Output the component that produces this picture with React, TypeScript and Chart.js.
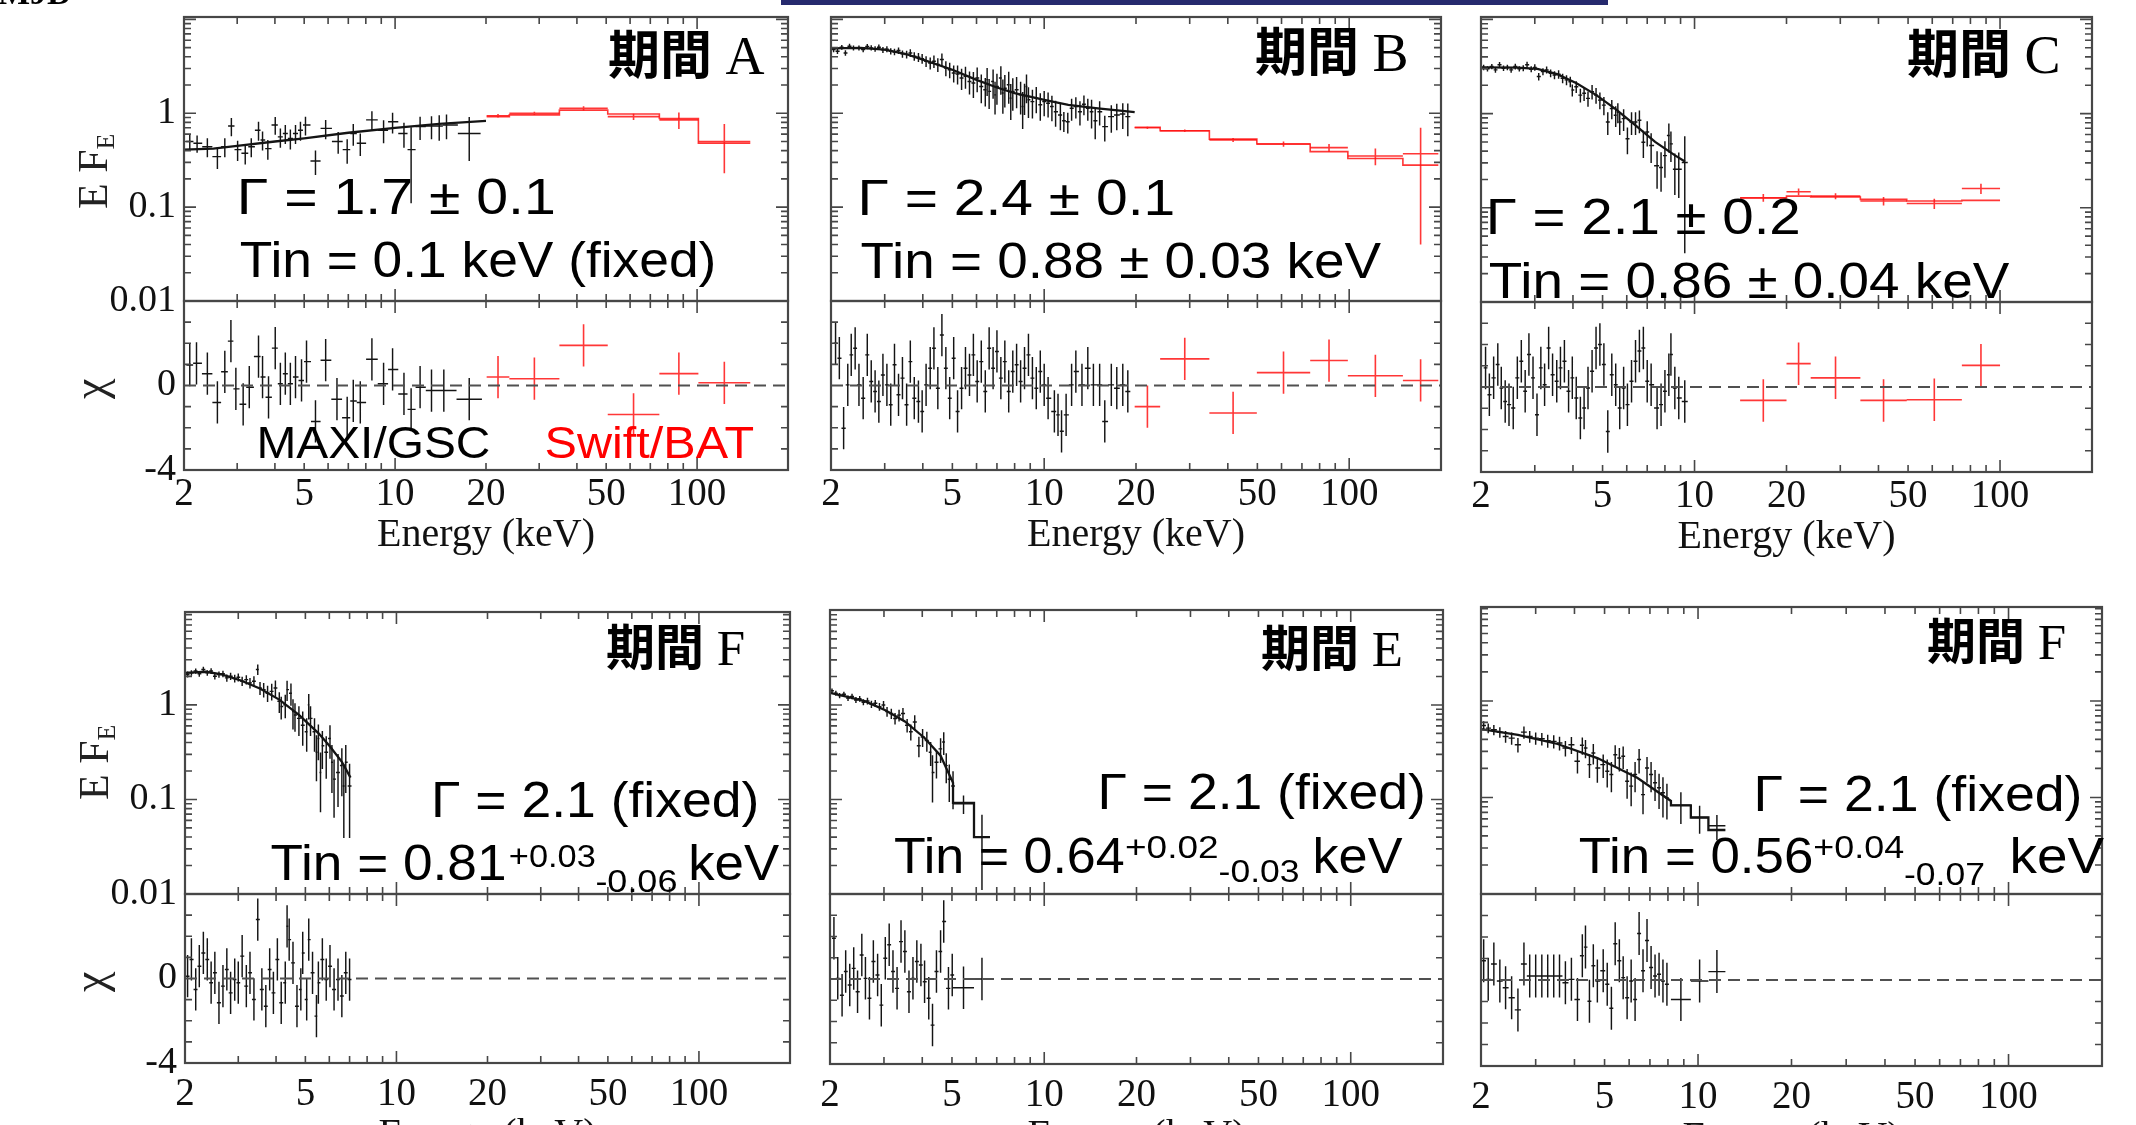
import React, { useEffect, useRef } from "react";
import { Chart, registerables } from "chart.js";

Chart.register(...registerables);

// ---------------- axis definitions ----------------
const X_TICK_LABELS = [2, 5, 10, 20, 50, 100];
const Y_TICK_LABELS = [0.01, 0.1, 1];
const CHI_TICK_LABELS = [-4, 0];
const X_RANGE = [2, 200];
const CHI_RANGE = [-4, 4];

// ---------------- Period A ----------------
// MAXI/GSC spectrum: [E keV, E F_E, error]
const A_GSC = [
  [2.09, 0.5, 0.1], [2.21, 0.48, 0.1], [2.39, 0.44, 0.1], [2.58, 0.345, 0.09], [2.73, 0.44, 0.1],
  [2.87, 0.73, 0.16], [3.01, 0.41, 0.1], [3.19, 0.375, 0.09], [3.34, 0.44, 0.1], [3.53, 0.66, 0.15],
  [3.64, 0.52, 0.12], [3.79, 0.42, 0.1], [4.01, 0.75, 0.16], [4.17, 0.56, 0.13], [4.33, 0.61, 0.14],
  [4.5, 0.54, 0.13], [4.68, 0.61, 0.14], [4.86, 0.66, 0.15], [5.05, 0.75, 0.17], [5.45, 0.31, 0.09],
  [5.89, 0.69, 0.16], [6.48, 0.5, 0.13], [6.94, 0.41, 0.12], [7.27, 0.61, 0.16], [7.67, 0.48, 0.13],
  [8.38, 0.85, 0.2], [9.16, 0.66, 0.18], [9.81, 0.81, 0.2], [10.7, 0.61, 0.18], [11.3, 0.41, 0.3],
  [12.1, 0.72, 0.2], [13.2, 0.73, 0.2], [14.0, 0.73, 0.22], [14.8, 0.75, 0.22], [17.6, 0.61, 0.3],
];
const A_GSC_MODEL = [[2.0, 0.41], [2.5, 0.42], [3.0, 0.45], [4.0, 0.5], [5.0, 0.54], [7.0, 0.62], [10, 0.7], [14, 0.77], [20, 0.83]];
// residuals: [E keV, chi]
const A_GSC_CHI = [
  [2.09, 0.97], [2.2, 1.05], [2.39, 0.56], [2.58, -0.8], [2.73, 0.65], [2.86, 2.1], [2.97, -0.16],
  [3.14, -0.89], [3.29, -0.08], [3.53, 1.37], [3.64, 0.4], [3.81, -0.56], [4.01, 1.77], [4.17, 0.08],
  [4.33, 0.56], [4.5, 0.08], [4.68, 0.4], [4.9, 0.24], [5.09, 1.13], [5.45, -1.7], [5.89, 1.2],
  [6.42, -0.65], [6.94, -1.53], [7.27, -0.73], [7.67, -0.8], [8.38, 1.24], [9.16, 0.08], [9.81, 0.76],
  [10.7, -0.4], [11.3, -1.13], [12.1, -0.08], [13.2, -0.24], [14.5, -0.24], [17.6, -0.65],
];
// Swift/BAT: bins [lo, hi], flux [F, err], model level, chi
const A_BAT_BINS = [[20.1, 23.9], [23.9, 35], [35, 50.6], [50.6, 75], [75, 101], [101, 150]];
const A_BAT_FLUX = [[0.94, 0.04], [1.0, 0.04], [1.13, 0.06], [0.92, 0.07], [0.85, 0.17], [0.5, 0.27]];
const A_BAT_MODEL = [0.92, 0.96, 1.08, 0.98, 0.88, 0.48];
const A_BAT_CHI = [0.4, 0.32, 1.9, -1.37, 0.56, 0.13];

// ---------------- Period B ----------------
const B_GSC = [
  [2.04, 4.77, 0.3], [2.1, 4.58, 0.3], [2.17, 5.05, 0.3], [2.23, 4.39, 0.3], [2.3, 5.18, 0.32],
  [2.37, 4.97, 0.3], [2.47, 4.97, 0.3], [2.55, 4.77, 0.3], [2.63, 5.14, 0.32], [2.71, 4.97, 0.32],
  [2.79, 4.85, 0.32], [2.87, 5.05, 0.34], [2.96, 4.73, 0.34], [3.05, 4.81, 0.35], [3.14, 4.58, 0.35],
  [3.23, 4.5, 0.36], [3.33, 4.65, 0.38], [3.43, 4.29, 0.38], [3.54, 4.22, 0.4], [3.64, 4.39, 0.42],
  [3.75, 4.05, 0.42], [3.87, 3.95, 0.44], [3.98, 3.82, 0.46], [4.1, 3.58, 0.48], [4.23, 3.43, 0.5],
  [4.35, 3.58, 0.55], [4.48, 3.3, 0.55], [4.62, 3.73, 0.6], [4.76, 3.03, 0.55], [4.9, 2.91, 0.55],
  [5.05, 2.68, 0.55], [5.2, 2.62, 0.6], [5.36, 2.37, 0.6], [5.52, 2.47, 0.65], [5.69, 2.18, 0.6],
  [5.86, 2.1, 0.65], [6.03, 2.37, 0.7], [6.22, 1.93, 0.65], [6.41, 1.78, 0.6], [6.5, 2.28, 0.75],
  [6.6, 1.71, 0.6], [6.8, 2.18, 0.75], [6.9, 1.57, 0.6], [7.0, 1.93, 0.7], [7.21, 2.37, 0.8],
  [7.32, 1.64, 0.65], [7.43, 1.85, 0.7], [7.65, 2.01, 0.75], [7.77, 1.45, 0.6], [7.89, 1.71, 0.65],
  [8.12, 1.78, 0.65], [8.37, 1.57, 0.6], [8.5, 1.18, 0.5], [8.62, 1.51, 0.55], [8.75, 1.93, 0.65],
  [8.88, 1.39, 0.5], [9.15, 1.33, 0.45], [9.42, 1.45, 0.45], [9.71, 1.23, 0.4], [10.0, 1.33, 0.4],
  [10.3, 1.28, 0.38], [10.6, 1.18, 0.36], [10.9, 1.04, 0.32], [11.3, 0.96, 0.3], [11.6, 0.83, 0.2],
  [11.95, 0.81, 0.2], [12.3, 1.13, 0.3], [12.7, 1.18, 0.3], [13.1, 1.04, 0.3], [13.5, 1.25, 0.3],
  [13.9, 1.13, 0.3], [14.3, 1.04, 0.35], [14.7, 0.83, 0.3], [15.2, 1.04, 0.3], [15.8, 0.72, 0.22],
  [16.6, 0.92, 0.3], [17.3, 0.96, 0.3], [18.1, 0.98, 0.3], [18.8, 0.92, 0.35],
];
const B_GSC_MODEL = [[2.0, 4.9], [2.5, 4.97], [3.0, 4.76], [3.5, 4.3], [4.0, 3.72], [5.0, 2.91], [6.0, 2.27], [7.0, 1.88], [8.0, 1.64], [10, 1.39], [12, 1.23], [15, 1.13], [19.8, 1.03]];
const B_GSC_CHI = [
  [2.07, 2.0], [2.13, 1.29], [2.2, -2.02], [2.27, 0.03], [2.33, 1.45], [2.4, 1.76], [2.47, 0.03],
  [2.55, -0.6], [2.63, 1.45], [2.71, 0.19], [2.79, -0.28], [2.87, -0.76], [2.96, 0.5], [3.05, 0.03],
  [3.14, -0.91], [3.23, 0.98], [3.33, -0.44], [3.43, 0.35], [3.54, -0.91], [3.64, 1.13], [3.75, -0.6],
  [3.87, -0.76], [3.98, -1.23], [4.1, 0.03], [4.23, 0.82], [4.35, 1.76], [4.48, -0.13], [4.62, 2.39],
  [4.76, 0.82], [4.9, -0.6], [5.05, 1.29], [5.2, -1.23], [5.36, -0.13], [5.52, 0.82], [5.69, 0.5],
  [5.86, 1.45], [6.03, 0.19], [6.22, 1.13], [6.41, -0.28], [6.6, 1.76], [6.8, 0.82], [7.0, 1.61],
  [7.21, 0.35], [7.43, 1.13], [7.65, -0.28], [7.89, 0.66], [8.12, 0.98], [8.37, 0.19], [8.62, 0.82],
  [8.88, 1.45], [9.15, 0.35], [9.42, -0.13], [9.71, 0.66], [10.0, 0.03], [10.3, -0.6], [10.8, -1.23],
  [11.1, -1.39], [11.4, -2.17], [11.8, -1.39], [12.3, 0.03], [12.7, 0.66], [13.3, 0.03], [13.9, 0.82],
  [14.5, 0.03], [15.2, 0.03], [15.8, -1.7], [16.6, 0.03], [17.3, -0.13], [18.1, 0.03], [18.8, -0.28],
];
const B_BAT_BINS = [[19.8, 24.0], [24.0, 34.8], [34.8, 49.8], [49.8, 74.5], [74.5, 99], [99, 150], [150, 196]];
const B_BAT_FLUX = [[0.7, 0.02], [0.65, 0.02], [0.52, 0.025], [0.47, 0.03], [0.43, 0.04], [0.35, 0.07], [0.37, 0.33]];
const B_BAT_MODEL = [0.71, 0.65, 0.53, 0.47, 0.39, 0.33, 0.28];
const B_BAT_CHI = [-1.0, 1.26, -1.3, 0.61, 1.18, 0.46, 0.24];

// ---------------- Period C ----------------
const C_GSC = [
  [2.04, 3.09, 0.2], [2.1, 2.99, 0.2], [2.17, 3.16, 0.2], [2.23, 2.91, 0.2], [2.3, 3.3, 0.22],
  [2.37, 3.03, 0.2], [2.44, 3.09, 0.2], [2.51, 2.91, 0.2], [2.59, 3.16, 0.22], [2.67, 2.99, 0.2],
  [2.75, 3.03, 0.22], [2.83, 3.3, 0.24], [2.92, 2.96, 0.22], [3.0, 3.09, 0.24], [3.09, 2.47, 0.22],
  [3.19, 2.79, 0.24], [3.28, 2.91, 0.25], [3.38, 2.68, 0.25], [3.48, 2.57, 0.25], [3.59, 2.62, 0.27],
  [3.7, 2.37, 0.27], [3.81, 2.28, 0.28], [3.92, 2.18, 0.28], [3.98, 1.78, 0.26], [4.1, 1.93, 0.28],
  [4.23, 1.57, 0.26], [4.35, 1.64, 0.28], [4.48, 1.45, 0.27], [4.62, 1.71, 0.3], [4.76, 1.57, 0.3],
  [4.9, 1.39, 0.28], [5.05, 1.23, 0.27], [5.2, 0.814, 0.22], [5.36, 1.13, 0.26], [5.52, 0.96, 0.24],
  [5.61, 1.04, 0.25], [5.69, 0.814, 0.22], [5.86, 0.884, 0.23], [6.03, 0.54, 0.17], [6.22, 0.814, 0.22],
  [6.41, 0.814, 0.22], [6.6, 0.85, 0.23], [6.8, 0.497, 0.16], [7.0, 0.637, 0.19], [7.21, 0.458, 0.16],
  [7.54, 0.279, 0.12], [7.77, 0.268, 0.12], [8.0, 0.358, 0.15], [8.24, 0.586, 0.2], [8.37, 0.477, 0.17],
  [8.62, 0.257, 0.12], [8.88, 0.257, 0.13], [9.29, 0.303, 0.27],
];
const C_GSC_MODEL = [[2.0, 3.1], [2.64, 3.08], [3.06, 2.98], [3.55, 2.62], [4.11, 2.1], [4.77, 1.57], [5.53, 1.11], [6.41, 0.75], [7.43, 0.5], [8.63, 0.36], [9.3, 0.31]];
const C_GSC_CHI = [
  [2.07, 0.9], [2.13, -0.36], [2.2, 0.43], [2.27, 1.06], [2.33, -0.05], [2.4, -0.68], [2.47, -0.83],
  [2.55, -0.99], [2.63, 0.43], [2.71, 1.21], [2.79, -0.2], [2.87, 1.53], [2.96, 0.43], [3.05, -1.31],
  [3.14, 0.9], [3.23, 0.11], [3.33, 1.84], [3.43, 0.58], [3.54, 0.27], [3.64, 0.9], [3.75, 1.21],
  [3.87, -0.2], [3.98, 0.43], [4.1, -0.52], [4.23, -1.46], [4.35, -0.99], [4.48, -0.05], [4.62, 0.74],
  [4.76, 1.84], [4.9, 2.0], [5.05, 1.06], [5.2, -2.09], [5.36, 0.58], [5.52, 0.11], [5.69, -0.99],
  [5.86, -0.05], [6.03, -0.83], [6.22, 0.27], [6.41, 1.21], [6.6, 1.69], [6.8, 1.84], [7.0, 0.27],
  [7.21, 0.11], [7.54, -0.99], [7.77, -0.83], [8.0, -0.2], [8.24, 0.58], [8.37, 1.53], [8.62, -0.05],
  [8.88, -0.52], [9.29, -0.68],
];
const C_BAT_BINS = [[14.1, 20.0], [20.0, 24.0], [24.0, 34.9], [34.9, 49.5], [49.5, 75], [75, 100]];
const C_BAT_FLUX = [[0.128, 0.012], [0.148, 0.012], [0.133, 0.01], [0.118, 0.012], [0.111, 0.014], [0.16, 0.02]];
const C_BAT_MODEL = [0.127, 0.133, 0.13, 0.123, 0.118, 0.12];
const C_BAT_CHI = [-0.63, 1.1, 0.43, -0.63, -0.6, 1.02];

// ---------------- Period F (left) ----------------
const F1_GSC = [
  [2.04, 2.1, 0.15], [2.1, 2.18, 0.15], [2.17, 2.28, 0.15], [2.23, 2.13, 0.15], [2.3, 2.37, 0.16],
  [2.37, 2.18, 0.15], [2.44, 2.28, 0.16], [2.51, 2.01, 0.15], [2.59, 2.1, 0.16], [2.67, 2.13, 0.17],
  [2.75, 1.93, 0.17], [2.83, 2.01, 0.18], [2.92, 1.9, 0.18], [3.0, 1.96, 0.19], [3.09, 1.78, 0.2],
  [3.19, 1.85, 0.21], [3.28, 1.71, 0.22], [3.38, 1.78, 0.23], [3.48, 2.37, 0.3], [3.54, 1.51, 0.24],
  [3.64, 1.45, 0.25], [3.75, 1.33, 0.26], [3.87, 1.39, 0.28], [3.98, 1.51, 0.3], [4.1, 1.09, 0.27],
  [4.16, 0.96, 0.26], [4.29, 1.0, 0.28], [4.35, 1.45, 0.35], [4.48, 1.33, 0.35], [4.55, 0.85, 0.3],
  [4.62, 0.78, 0.26], [4.76, 0.72, 0.25], [4.9, 0.61, 0.24], [5.05, 0.52, 0.2], [5.13, 1.0, 0.3],
  [5.2, 0.72, 0.25], [5.36, 0.52, 0.2], [5.44, 0.316, 0.16], [5.52, 0.44, 0.18], [5.61, 0.193, 0.12],
  [5.69, 0.37, 0.16], [5.86, 0.316, 0.15], [6.03, 0.44, 0.17], [6.12, 0.247, 0.13], [6.22, 0.164, 0.1],
  [6.41, 0.193, 0.11], [6.6, 0.228, 0.12], [6.7, 0.139, 0.1], [6.8, 0.247, 0.13], [7.0, 0.139, 0.1],
];
const F1_GSC_MODEL = [[2.0, 2.18], [2.35, 2.24], [2.64, 2.1], [3.06, 1.81], [3.55, 1.48], [4.11, 1.13], [4.77, 0.78], [5.53, 0.5], [6.04, 0.36], [6.6, 0.25], [7.05, 0.17]];
const F1_GSC_CHI = [
  [2.04, 0.11], [2.1, 0.9], [2.17, -0.52], [2.23, 0.58], [2.3, 1.21], [2.37, 0.9], [2.44, -0.2],
  [2.51, 0.27], [2.59, -1.15], [2.67, -0.36], [2.75, 0.43], [2.83, -0.68], [2.92, -0.05], [3.0, -0.2],
  [3.09, 1.06], [3.19, -0.36], [3.28, 0.27], [3.38, -0.99], [3.48, 2.79], [3.59, -0.52], [3.7, -1.31],
  [3.81, 0.43], [3.92, -0.68], [4.04, 0.9], [4.16, -1.15], [4.29, -0.2], [4.35, 2.47], [4.42, 1.84],
  [4.55, 0.74], [4.69, -1.31], [4.83, -0.52], [4.9, 1.21], [5.05, -0.99], [5.13, 1.84], [5.28, 0.27],
  [5.44, -1.78], [5.52, -0.2], [5.69, 0.9], [5.86, -0.05], [6.03, 0.58], [6.22, -0.52], [6.41, -0.05],
  [6.6, -0.83], [6.8, 0.27], [7.0, -0.05],
];

// ---------------- Period E ----------------
const E_GSC = [
  [2.03, 1.41, 0.08], [2.09, 1.33, 0.08], [2.15, 1.26, 0.08], [2.22, 1.3, 0.08], [2.29, 1.18, 0.08],
  [2.36, 1.23, 0.08], [2.43, 1.13, 0.08], [2.5, 1.16, 0.08], [2.57, 1.07, 0.08], [2.65, 1.1, 0.09],
  [2.73, 1.02, 0.09], [2.81, 1.04, 0.09], [2.9, 0.96, 0.09], [2.99, 1.0, 0.1], [3.07, 0.85, 0.1],
  [3.17, 0.81, 0.1], [3.26, 0.72, 0.1], [3.36, 0.78, 0.11], [3.46, 0.81, 0.12], [3.57, 0.61, 0.1],
  [3.67, 0.52, 0.1], [3.78, 0.66, 0.12], [3.9, 0.37, 0.09], [4.01, 0.458, 0.1], [4.14, 0.42, 0.1],
  [4.26, 0.316, 0.09], [4.32, 0.193, 0.1], [4.45, 0.247, 0.08], [4.59, 0.343, 0.1], [4.7, 0.405, 0.11],
  [4.79, 0.228, 0.08], [4.9, 0.164, 0.07], [5.04, 0.139, 0.06],
];
const E_WIDE_BINS = [[5.04, 5.9], [5.9, 6.65]];
const E_WIDE_FLUX = [[0.09, 0.02], [0.04, 0.029]];
const E_WIDE_CHI = [-0.41, 0.0];
const E_GSC_MODEL = [[2.0, 1.34], [2.32, 1.2], [2.61, 1.09], [3.03, 0.88], [3.51, 0.67], [4.07, 0.447], [4.59, 0.29], [5.04, 0.15], [5.04, 0.092], [5.9, 0.092], [5.9, 0.04], [6.65, 0.04]];
const E_GSC_CHI = [
  [2.06, 1.92], [2.12, 0.03], [2.19, -0.76], [2.25, 0.35], [2.32, -0.28], [2.39, 0.5], [2.46, -0.6],
  [2.54, 1.13], [2.61, 0.03], [2.69, -0.91], [2.77, 0.82], [2.86, 0.19], [2.94, -1.23], [3.03, 0.98],
  [3.12, 1.61], [3.21, 0.35], [3.31, -0.44], [3.41, 1.76], [3.51, 1.29], [3.62, -0.6], [3.73, 0.03],
  [3.84, 0.82], [3.96, 0.66], [4.07, -0.13], [4.2, -0.91], [4.32, -2.17], [4.45, 0.35], [4.59, 1.29],
  [4.7, 2.71], [4.87, -0.44], [5.01, 0.19],
];

// ---------------- Period F (right) ----------------
const F2_GSC = [
  [2.04, 0.557, 0.06], [2.11, 0.523, 0.06], [2.2, 0.502, 0.06], [2.3, 0.475, 0.06], [2.4, 0.429, 0.06],
  [2.51, 0.412, 0.06], [2.63, 0.352, 0.06], [2.75, 0.475, 0.07], [2.87, 0.429, 0.06], [3.0, 0.412, 0.06],
  [3.14, 0.406, 0.06], [3.28, 0.387, 0.06], [3.43, 0.381, 0.06], [3.58, 0.366, 0.06], [3.74, 0.325, 0.06],
  [3.91, 0.352, 0.07], [4.09, 0.237, 0.06], [4.24, 0.347, 0.07], [4.34, 0.325, 0.07], [4.47, 0.219, 0.06],
  [4.6, 0.289, 0.07], [4.74, 0.202, 0.06], [4.95, 0.219, 0.06], [5.1, 0.187, 0.06], [5.26, 0.173, 0.06],
  [5.41, 0.277, 0.07], [5.58, 0.256, 0.07], [5.74, 0.267, 0.07], [5.91, 0.147, 0.05], [6.09, 0.131, 0.05],
  [6.27, 0.173, 0.06], [6.46, 0.247, 0.07], [6.65, 0.107, 0.04], [6.85, 0.202, 0.06], [7.06, 0.173, 0.06],
  [7.27, 0.142, 0.05], [7.49, 0.126, 0.05], [7.71, 0.112, 0.05], [7.94, 0.099, 0.04],
];
const F2_WIDE_BINS = [[8.18, 9.48], [9.48, 10.8], [10.8, 12.25]];
const F2_WIDE_FLUX = [[0.083, 0.03], [0.062, 0.02], [0.051, 0.015]];
const F2_WIDE_CHI = [-0.91, -0.05, 0.39];
const F2_GSC_MODEL = [[2.0, 0.51], [2.63, 0.446], [3.53, 0.358], [4.74, 0.256], [6.37, 0.16], [8.18, 0.092], [8.18, 0.083], [9.48, 0.083], [9.48, 0.062], [10.8, 0.062], [10.8, 0.046], [12.25, 0.046]];
const F2_GSC_CHI = [
  [2.04, 0.9], [2.11, 0.03], [2.2, 0.74], [2.3, -0.05], [2.4, -0.36], [2.51, -0.83], [2.63, -1.39],
  [2.75, 0.74], [2.87, 0.19], [3.0, 0.19], [3.14, 0.19], [3.28, 0.19], [3.43, 0.19], [3.58, 0.19],
  [3.74, -0.13], [3.91, 0.03], [4.09, -0.91], [4.24, 1.13], [4.34, 1.53], [4.47, -0.99], [4.6, 0.66],
  [4.74, -0.05], [4.95, 0.43], [5.1, -0.2], [5.26, -1.31], [5.41, 1.69], [5.58, 0.9], [5.74, 0.11],
  [5.91, -0.83], [6.09, -0.05], [6.27, -0.91], [6.46, 2.16], [6.65, 0.43], [6.85, 1.84], [7.06, 0.58],
  [7.27, 0.19], [7.49, 0.27], [7.71, -0.05], [7.94, -0.2],
];

// ---------------- styling / layout ----------------
const SANS = '"Liberation Sans", Arial, Helvetica, sans-serif';
const SERIF = '"Liberation Serif", "Times New Roman", serif';
const CJK = '"Noto Sans CJK JP", "Noto Sans CJK SC", sans-serif';
const INK = "#141414";
const RED = "rgba(255,20,20,0.85)";
const FRAME = "#474747";
const AXW = 130;
const PT = 34;
const PR = 12;

const PANELS: any[] = [
  { key: "A", left: 184, right: 788, top: 17, divider: 301, bottom: 470, ymax: 10.6, labels: true, xPad: 1, xAxisH: 89,
    gsc: A_GSC, model: A_GSC_MODEL, chi: A_GSC_CHI,
    bat: { bins: A_BAT_BINS, flux: A_BAT_FLUX, model: A_BAT_MODEL, chi: A_BAT_CHI } },
  { key: "B", left: 831, right: 1441, top: 17, divider: 301, bottom: 470, ymax: 10.6, labels: false, xPad: 1, xAxisH: 89,
    gsc: B_GSC, model: B_GSC_MODEL, chi: B_GSC_CHI,
    bat: { bins: B_BAT_BINS, flux: B_BAT_FLUX, model: B_BAT_MODEL, chi: B_BAT_CHI } },
  { key: "C", left: 1481, right: 2092, top: 17, divider: 302, bottom: 472, ymax: 10.6, labels: false, xPad: 1, xAxisH: 89,
    gsc: C_GSC, model: C_GSC_MODEL, chi: C_GSC_CHI,
    bat: { bins: C_BAT_BINS, flux: C_BAT_FLUX, model: C_BAT_MODEL, chi: C_BAT_CHI } },
  { key: "F1", left: 185, right: 790, top: 612, divider: 894, bottom: 1063, ymax: 9.6, labels: true, xPad: 8, xAxisH: 96,
    gsc: F1_GSC, model: F1_GSC_MODEL, chi: F1_GSC_CHI },
  { key: "E", left: 830, right: 1443, top: 610, divider: 894, bottom: 1064, ymax: 10.1, labels: false, xPad: 8, xAxisH: 96,
    gsc: E_GSC, model: E_GSC_MODEL, chi: E_GSC_CHI,
    wide: { bins: E_WIDE_BINS, flux: E_WIDE_FLUX, chi: E_WIDE_CHI } },
  { key: "F2", left: 1481, right: 2102, top: 607, divider: 894, bottom: 1066, ymax: 9.4, labels: false, xPad: 8, xAxisH: 96,
    gsc: F2_GSC, model: F2_GSC_MODEL, chi: F2_GSC_CHI,
    wide: { bins: F2_WIDE_BINS, flux: F2_WIDE_FLUX, chi: F2_WIDE_CHI } },
];

// ---------------- helpers ----------------
type XY = { x: number; y: number | null };

function logEdges(E: number[]): number[][] {
  const n = E.length;
  return E.map((e, i) => {
    const prev = i > 0 ? E[i - 1] : (e * e) / E[i + 1];
    const next = i < n - 1 ? E[i + 1] : (e * e) / E[i - 1];
    return [Math.sqrt(prev * e), Math.sqrt(e * next)];
  });
}

function pushCross(out: XY[], x: number, lo: number, hi: number, y: number, ylo: number, yhi: number) {
  out.push({ x: lo, y }, { x: hi, y }, { x: hi, y: null });
  out.push({ x, y: ylo }, { x, y: yhi }, { x, y: null });
}

function specCross(spec: number[][]): XY[] {
  const ed = logEdges(spec.map((p) => p[0]));
  const out: XY[] = [];
  spec.forEach((p, i) => pushCross(out, p[0], ed[i][0], ed[i][1], p[1], Math.max(p[1] - p[2], 1e-4), p[1] + p[2]));
  return out;
}

function chiCross(chi: number[][]): XY[] {
  const ed = logEdges(chi.map((p) => p[0]));
  const out: XY[] = [];
  chi.forEach((p, i) => pushCross(out, p[0], ed[i][0], ed[i][1], p[1], p[1] - 1, p[1] + 1));
  return out;
}

function binCross(bins: number[][], flux: number[][]): XY[] {
  const out: XY[] = [];
  bins.forEach((b, i) => {
    const [f, df] = flux[i];
    pushCross(out, Math.sqrt(b[0] * b[1]), b[0], b[1], f, Math.max(f - df, 1e-4), f + df);
  });
  return out;
}

function binChi(bins: number[][], chi: number[]): XY[] {
  const out: XY[] = [];
  bins.forEach((b, i) => pushCross(out, Math.sqrt(b[0] * b[1]), b[0], b[1], chi[i], chi[i] - 1, chi[i] + 1));
  return out;
}

function steps(bins: number[][], levels: number[]): XY[] {
  const out: XY[] = [];
  bins.forEach((b, i) => out.push({ x: b[0], y: levels[i] }, { x: b[1], y: levels[i] }));
  return out;
}

function ds(data: XY[], color: string, width: number, extra: any = {}) {
  return { data, borderColor: color, backgroundColor: color, borderWidth: width, pointRadius: 0, pointHoverRadius: 0, fill: false, tension: 0, spanGaps: false, ...extra };
}

function logTickList(min: number, max: number) {
  const out: { v: number; major: boolean }[] = [];
  for (let d = Math.pow(10, Math.floor(Math.log10(min))); d <= max; d *= 10) {
    for (let m = 1; m < 10; m++) {
      const v = Number((m * d).toPrecision(4));
      if (v >= min * 0.999 && v <= max * 1.001) out.push({ v, major: m === 1 });
    }
  }
  return out;
}

function makeFrame(xTicks: { v: number; major: boolean }[], yTicks: { v: number; major: boolean }[]) {
  return {
    id: "frame",
    afterDraw(chart: any) {
      const { ctx, chartArea: a } = chart;
      const xs = chart.scales.x;
      const ys = chart.scales.y;
      ctx.save();
      ctx.strokeStyle = FRAME;
      ctx.lineWidth = 1.6;
      ctx.beginPath();
      for (const t of xTicks) {
        const px = xs.getPixelForValue(t.v);
        if (px <= a.left + 1 || px >= a.right - 1) continue;
        const L = t.major ? 12 : 7;
        ctx.moveTo(px, a.top);
        ctx.lineTo(px, a.top + L);
        ctx.moveTo(px, a.bottom);
        ctx.lineTo(px, a.bottom - L);
      }
      for (const t of yTicks) {
        const py = ys.getPixelForValue(t.v);
        if (py <= a.top + 1 || py >= a.bottom - 1) continue;
        const L = t.major ? 12 : 7;
        ctx.moveTo(a.left, py);
        ctx.lineTo(a.left + L, py);
        ctx.moveTo(a.right, py);
        ctx.lineTo(a.right - L, py);
      }
      ctx.stroke();
      ctx.lineWidth = 2.2;
      ctx.strokeRect(a.left, a.top, a.right - a.left, a.bottom - a.top);
      ctx.restore();
    },
  };
}

const X_MINOR = logTickList(X_RANGE[0], X_RANGE[1]);
const CHI_MINOR = [-3, -2, -1, 1, 2, 3].map((v) => ({ v, major: false }));

function yAxis(p: any, extra: any) {
  return {
    afterFit: (s: any) => { s.width = AXW; },
    grid: { display: false, drawTicks: false, tickLength: 0 },
    border: { display: false },
    ticks: { display: p.labels, autoSkip: false, font: { family: SERIF, size: 38 }, color: "#111", padding: 8, callback: (v: any) => String(v) },
    ...extra,
  };
}

function upperConfig(p: any): any {
  const datasets: any[] = [ds(specCross(p.gsc), INK, 1.45)];
  if (p.wide) datasets.push(ds(binCross(p.wide.bins, p.wide.flux), INK, 1.45));
  if (p.bat) datasets.push(ds(binCross(p.bat.bins, p.bat.flux), RED, 1.6));
  datasets.push(ds(p.model.map((q: number[]) => ({ x: q[0], y: q[1] })), INK, 2.3));
  if (p.bat) datasets.push(ds(steps(p.bat.bins, p.bat.model), RED, 1.6));
  return {
    type: "line",
    data: { datasets },
    options: {
      animation: false, responsive: false, devicePixelRatio: 1, events: [],
      layout: { padding: { left: 0, top: PT, right: PR, bottom: PT } },
      plugins: { legend: { display: false }, tooltip: { enabled: false } },
      scales: {
        x: { type: "logarithmic", min: X_RANGE[0], max: X_RANGE[1], display: false },
        y: yAxis(p, {
          type: "logarithmic", min: Y_TICK_LABELS[0], max: p.ymax,
          afterBuildTicks: (s: any) => { s.ticks = Y_TICK_LABELS.map((v) => ({ value: v })); },
        }),
      },
    },
    plugins: [makeFrame(X_MINOR, logTickList(Y_TICK_LABELS[0], p.ymax))],
  };
}

function lowerConfig(p: any): any {
  const datasets: any[] = [
    ds([{ x: X_RANGE[0], y: 0 }, { x: X_RANGE[1], y: 0 }], "#505050", 2, { borderDash: [12, 7] }),
    ds(chiCross(p.chi), INK, 1.45),
  ];
  if (p.wide) datasets.push(ds(binChi(p.wide.bins, p.wide.chi), INK, 1.45));
  if (p.bat) datasets.push(ds(binChi(p.bat.bins, p.bat.chi), RED, 1.6));
  return {
    type: "line",
    data: { datasets },
    options: {
      animation: false, responsive: false, devicePixelRatio: 1, events: [],
      layout: { padding: { left: 0, top: PT, right: PR, bottom: 0 } },
      plugins: { legend: { display: false }, tooltip: { enabled: false } },
      scales: {
        x: {
          type: "logarithmic", min: X_RANGE[0], max: X_RANGE[1], position: "bottom",
          afterFit: (s: any) => { s.height = p.xAxisH; },
          afterBuildTicks: (s: any) => { s.ticks = X_TICK_LABELS.map((v) => ({ value: v })); },
          grid: { display: false, drawTicks: false, tickLength: 0 },
          border: { display: false },
          ticks: { autoSkip: false, maxRotation: 0, minRotation: 0, padding: p.xPad, font: { family: SERIF, size: 39 }, color: "#111", callback: (v: any) => String(v) },
          title: { display: true, text: "Energy (keV)", font: { family: SERIF, size: 40 }, color: "#111", padding: 0 },
        },
        y: yAxis(p, {
          type: "linear", min: CHI_RANGE[0], max: CHI_RANGE[1],
          afterBuildTicks: (s: any) => { s.ticks = CHI_TICK_LABELS.map((v) => ({ value: v })); },
        }),
      },
    },
    plugins: [makeFrame(X_MINOR, CHI_MINOR)],
  };
}

function Panel({ p }: { p: any }) {
  const upRef = useRef<HTMLCanvasElement>(null);
  const loRef = useRef<HTMLCanvasElement>(null);
  const W = p.right - p.left;
  const up = { left: p.left - AXW, top: p.top - PT, width: AXW + W + PR, height: PT + (p.divider - p.top) + PT };
  const lo = { left: p.left - AXW, top: p.divider - PT, width: AXW + W + PR, height: PT + (p.bottom - p.divider) + p.xAxisH };
  useEffect(() => {
    const c1 = new Chart(upRef.current as HTMLCanvasElement, upperConfig(p));
    const c2 = new Chart(loRef.current as HTMLCanvasElement, lowerConfig(p));
    return () => { c1.destroy(); c2.destroy(); };
  }, []);
  const st = (g: any) => ({ position: "absolute" as const, left: g.left, top: g.top, width: g.width, height: g.height });
  return (
    <>
      <canvas ref={loRef} width={lo.width} height={lo.height} style={st(lo)} />
      <canvas ref={upRef} width={up.width} height={up.height} style={st(up)} />
    </>
  );
}

function T({ x, y, s, w, f = SANS, c = "#000", children }: any) {
  const extra: any = w ? { textLength: w, lengthAdjust: "spacingAndGlyphs" } : {};
  return (
    <text x={x} y={y} fontSize={s} fontFamily={f} fill={c} {...extra}>
      {children}
    </text>
  );
}

function Title({ x, y, s, letter }: any) {
  return (
    <text x={x} y={y} fill="#000">
      <tspan fontFamily={CJK} fontWeight={700} fontSize={s}>期間</tspan>
      <tspan fontFamily={SERIF} fontSize={s + 2}>{" " + letter}</tspan>
    </text>
  );
}

function Overlay() {
  return (
    <svg width={2136} height={1125} style={{ position: "absolute", left: 0, top: 0, pointerEvents: "none" }}>
      <rect x={781} y={0} width={827} height={5} fill="#262a6e" />
      <text x={-2} y={4} fontFamily={SERIF} fontWeight="bold" fontSize={34} fill="#000">MJD</text>

      {/* period labels */}
      <Title x={608} y={74} s={52} letter="A" />
      <Title x={1255} y={71} s={52} letter="B" />
      <Title x={1907} y={73} s={52} letter="C" />
      <Title x={606} y={665} s={49} letter="F" />
      <Title x={1261} y={666} s={49} letter="E" />
      <Title x={1927} y={659} s={49} letter="F" />

      {/* fit parameters */}
      <T x={236.8} y={214} s={50} w={319}>Γ = 1.7 ± 0.1</T>
      <T x={239.8} y={277.3} s={50} w={476.5}>Tin = 0.1 keV (fixed)</T>
      <T x={256.4} y={457.5} s={44} w={234}>MAXI/GSC</T>
      <T x={544.6} y={457.5} s={44} w={209.5} c="#ff0000">Swift/BAT</T>

      <T x={857.5} y={215} s={50} w={317.7}>Γ = 2.4 ± 0.1</T>
      <T x={860.5} y={278.3} s={50} w={520.5}>Tin = 0.88 ± 0.03 keV</T>

      <T x={1485.8} y={234.3} s={50} w={315}>Γ = 2.1 ± 0.2</T>
      <T x={1488.8} y={297.7} s={50} w={520.5}>Tin = 0.86 ± 0.04 keV</T>

      <T x={430.9} y={816.7} s={50} w={328.5}>Γ = 2.1 (fixed)</T>
      <T x={270.5} y={880} s={50} w={236}>Tin = 0.81</T>
      <T x={508.8} y={866.7} s={32} w={87}>+0.03</T>
      <T x={595.4} y={891.7} s={32} w={82}>-0.06</T>
      <T x={688.2} y={880} s={50} w={91}>keV</T>

      <T x={1097.5} y={809} s={50} w={328.2}>Γ = 2.1 (fixed)</T>
      <T x={893.9} y={873.3} s={50} w={230.8}>Tin = 0.64</T>
      <T x={1125} y={858.3} s={32} w={93.6}>+0.02</T>
      <T x={1218.6} y={881.7} s={32} w={81}>-0.03</T>
      <T x={1312.5} y={873.3} s={50} w={90}>keV</T>

      <T x={1753.4} y={810.8} s={50} w={329}>Γ = 2.1 (fixed)</T>
      <T x={1578.8} y={873} s={50} w={234.5}>Tin = 0.56</T>
      <T x={1813.3} y={858} s={32} w={90.8}>+0.04</T>
      <T x={1904} y={884.7} s={32} w={81}>-0.07</T>
      <T x={2009.5} y={873} s={50} w={94.5}>keV</T>

      {/* y-axis titles */}
      <text transform="translate(107,209) rotate(-90)" fontFamily={SERIF} fontSize={42} fill="#222">
        E F<tspan fontSize={26} dy={7}>E</tspan>
      </text>
      <text transform="translate(105,399) rotate(-90)" fontFamily={SERIF} fontSize={46} fill="#222">χ</text>
      <text transform="translate(108,800) rotate(-90)" fontFamily={SERIF} fontSize={42} fill="#222">
        E F<tspan fontSize={26} dy={7}>E</tspan>
      </text>
      <text transform="translate(105,992) rotate(-90)" fontFamily={SERIF} fontSize={46} fill="#222">χ</text>
    </svg>
  );
}

export default function App() {
  return (
    <div style={{ position: "fixed", left: 0, top: 0, width: 2136, height: 1125, overflow: "hidden", background: "#fff" }}>
      {PANELS.map((p) => (
        <Panel key={p.key} p={p} />
      ))}
      <Overlay />
    </div>
  );
}
